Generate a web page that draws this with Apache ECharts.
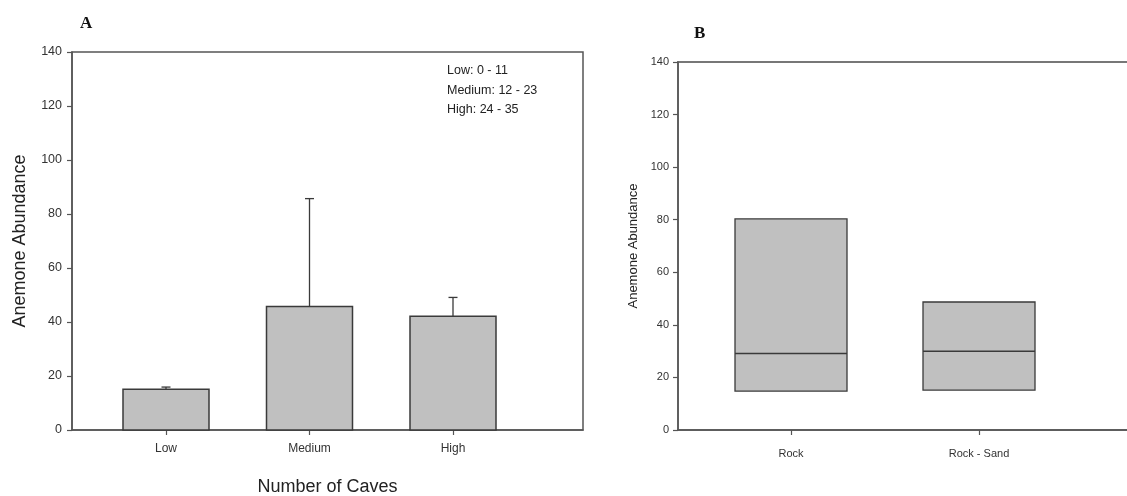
<!DOCTYPE html>
<html><head><meta charset="utf-8">
<script src="https://cdn.jsdelivr.net/npm/echarts@6/dist/echarts.min.js"></script>
<style>html,body{margin:0;padding:0;background:#fff}#c{width:1127px;height:496px}</style>
</head><body><div id="c"></div>
<script>
// Panel A data
const catsA = ['Low', 'Medium', 'High'];
const meanA = [15.1, 45.7, 42.1];
const errTopA = [15.9, 85.7, 49.1];
const legendLines = ['Low: 0 - 11', 'Medium: 12 - 23', 'High: 24 - 35'];
// Panel B data (box: lower, median, upper)
const catsB = ['Rock', 'Rock - Sand'];
const lowB = [14.8, 15.2];
const medB = [29.1, 30.0];
const highB = [80.3, 48.7];
const yTicks = [0, 20, 40, 60, 80, 100, 120, 140];

const chart = echarts.init(document.getElementById('c'));
const FONT = '"Liberation Sans", Arial, sans-serif';
const AX = '#555';
const FILL = '#c0c0c0';
const EDGE = '#3a3a3a';

function barItem(params, api) {
  const x = api.value(0), v = api.value(1), e = api.value(2);
  const w = 86;
  const p0 = api.coord([x, 0]), p1 = api.coord([x, v]), pe = api.coord([x, e]);
  return {type: 'group', children: [
    {type: 'line', shape: {x1: p1[0], y1: p1[1], x2: pe[0], y2: pe[1]}, style: {stroke: EDGE, lineWidth: 1.3}},
    {type: 'line', shape: {x1: pe[0] - 4.5, y1: pe[1], x2: pe[0] + 4.5, y2: pe[1]}, style: {stroke: EDGE, lineWidth: 1.3}},
    {type: 'rect', shape: {x: p1[0] - w / 2, y: p1[1], width: w, height: p0[1] - p1[1]}, style: {fill: FILL, stroke: EDGE, lineWidth: 1.5}}
  ]};
}
function boxItem(params, api) {
  const x = api.value(0), lo = api.value(1), md = api.value(2), hi = api.value(3);
  const w = 112;
  const pl = api.coord([x, lo]), pm = api.coord([x, md]), ph = api.coord([x, hi]);
  return {type: 'group', children: [
    {type: 'rect', shape: {x: ph[0] - w / 2, y: ph[1], width: w, height: pl[1] - ph[1]}, style: {fill: FILL, stroke: EDGE, lineWidth: 1.3}},
    {type: 'line', shape: {x1: pm[0] - w / 2, y1: pm[1], x2: pm[0] + w / 2, y2: pm[1]}, style: {stroke: EDGE, lineWidth: 1.5}}
  ]};
}

const dataA = catsA.map((c, i) => [i + 1, meanA[i], errTopA[i]]);
const dataB = catsB.map((c, i) => [i + 1, lowB[i], medB[i], highB[i]]);

function yAxis(gi, fs, name, nameFs, gap, margin) {
  return {type: 'value', gridIndex: gi, min: 0, max: 140, interval: 20,
    name: name, nameLocation: 'middle', nameGap: gap,
    nameTextStyle: {fontFamily: FONT, fontSize: nameFs, color: '#222'},
    axisLine: {show: true, lineStyle: {color: AX, width: 1.5}},
    axisTick: {show: true, inside: false, length: 5, lineStyle: {color: AX, width: 1.2}},
    axisLabel: {fontFamily: FONT, fontSize: fs, color: '#333', margin: margin},
    splitLine: {show: false}};
}
function xAxis(gi, cats, min, max, fs, margin, name) {
  return {type: 'value', gridIndex: gi, min: min, max: max,
    name: name || '', nameLocation: 'middle', nameGap: 48,
    nameTextStyle: {fontFamily: FONT, fontSize: 18, color: '#222'},
    axisLine: {show: true, onZero: false, lineStyle: {color: AX, width: 1.5}},
    axisTick: {show: true, length: 5, customValues: cats.map((c, i) => i + 1), lineStyle: {color: AX, width: 1.2}},
    axisLabel: {fontFamily: FONT, fontSize: fs, color: '#333', margin: margin,
      customValues: cats.map((c, i) => i + 1),
      formatter: v => cats[Math.round(v) - 1] || ''},
    splitLine: {show: false}};
}

chart.setOption({
  animation: false,
  grid: [
    {left: 72, right: 544, top: 52, bottom: 66, outerBoundsMode: 'none', containLabel: false, show: true, borderColor: AX, borderWidth: 1.5, backgroundColor: 'transparent'},
    {left: 678, right: -10, top: 62, bottom: 66, outerBoundsMode: 'none', containLabel: false, show: true, borderColor: '#777', borderWidth: 1.8, backgroundColor: 'transparent'}
  ],
  xAxis: [
    xAxis(0, catsA, 1 - 94 / 143.5, 3 + 130 / 143.5, 12, 13, 'Number of Caves'),
    xAxis(1, catsB, 1 - 113 / 188, 2 + 158 / 188, 11, 18, '')
  ],
  yAxis: [
    yAxis(0, 12.5, 'Anemone Abundance', 18, 43, 10),
    yAxis(1, 11, 'Anemone Abundance', 13, 38, 9)
  ],
  series: [
    {type: 'custom', xAxisIndex: 0, yAxisIndex: 0, data: dataA, renderItem: barItem, encode: {x: 0, y: [1, 2]}},
    {type: 'custom', xAxisIndex: 1, yAxisIndex: 1, data: dataB, renderItem: boxItem, encode: {x: 0, y: [1, 2, 3]}}
  ],
  graphic: [
    {type: 'text', left: 80, top: 15, style: {text: 'A', font: 'bold 17px "Liberation Serif", "Times New Roman", serif', fill: '#111'}},
    {type: 'text', left: 694, top: 25, style: {text: 'B', font: 'bold 17px "Liberation Serif", "Times New Roman", serif', fill: '#111'}},
    {type: 'text', left: 447, top: 61, style: {text: legendLines.join('\n'), font: '12.5px "Liberation Sans", Arial, sans-serif', lineHeight: 19.5, fill: '#222'}}
  ]
});
</script></body></html>
